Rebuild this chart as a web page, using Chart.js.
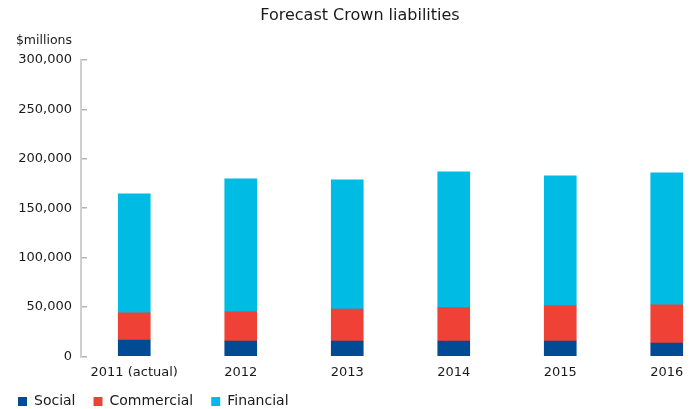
<!DOCTYPE html>
<html>
<head>
<meta charset="utf-8">
<title>Forecast Crown liabilities</title>
<script src="https://cdn.jsdelivr.net/npm/chart.js@4/dist/chart.umd.min.js"></script>
<style>
    html, body { margin: 0; padding: 0; background: #fff; overflow: hidden; }
    canvas { display: block; }
</style>
</head>
<body>
<canvas id="liabilitiesChart" width="720" height="409"></canvas>
<script>
// 年度与各类负债（百万元）
const years = ['2011 (actual)', '2012', '2013', '2014', '2015', '2016'];
const social = [16500, 15500, 15500, 15500, 15500, 13500];
const commercial = [27400, 29400, 32400, 33800, 35800, 38500];
const financial = [120600, 134800, 130800, 137500, 131400, 133800];

const yMax = 300000;
const yStep = 50000;

const FONT = 'DejaVu Sans';
const TEXT = '#1a1a1a';

// 纵轴顶部的单位文字
const unitLabel = {
    id: 'unitLabel',
    afterDraw(chart) {
        const ctx = chart.ctx;
        const y = chart.scales.y;
        ctx.save();
        ctx.font = '12.5px "' + FONT + '"';
        ctx.fillStyle = TEXT;
        ctx.textAlign = 'right';
        ctx.textBaseline = 'alphabetic';
        ctx.fillText('$millions', y.right - 9, 44);
        ctx.restore();
    }
};

function createChart() {
    const ctx = document.getElementById('liabilitiesChart');
    if (!ctx) return;

    return new Chart(ctx, {
        type: 'bar',
        data: {
            labels: years,
            datasets: [
                {
                    label: 'Social',
                    data: social,
                    backgroundColor: 'rgb(0, 75, 147)',
                    borderWidth: 0,
                    barThickness: 32
                },
                {
                    label: 'Commercial',
                    data: commercial,
                    backgroundColor: 'rgb(239, 65, 54)',
                    borderWidth: 0,
                    barThickness: 32
                },
                {
                    label: 'Financial',
                    data: financial,
                    backgroundColor: 'rgb(0, 187, 228)',
                    borderWidth: 0,
                    barThickness: 32
                }
            ]
        },
        options: {
            responsive: false,
            animation: false,
            devicePixelRatio: 1,
            layout: {
                padding: 0
            },
            plugins: {
                title: {
                    display: true,
                    text: 'Forecast Crown liabilities',
                    color: TEXT,
                    font: { family: FONT, size: 16, weight: 'normal' },
                    padding: { top: 6, bottom: 34.8 }
                },
                legend: {
                    display: true,
                    position: 'bottom',
                    align: 'start',
                    maxHeight: 32.5,
                    labels: {
                        boxWidth: 9,
                        boxHeight: 9,
                        padding: 18,
                        color: TEXT,
                        font: { family: FONT, size: 14 }
                    }
                },
                tooltip: { enabled: false }
            },
            scales: {
                x: {
                    stacked: true,
                    afterFit(scale) { scale.height = 20.2; },
                    grid: { display: false, drawTicks: false },
                    border: { display: false },
                    ticks: {
                        padding: 9,
                        color: TEXT,
                        font: { family: FONT, size: 13 },
                        maxRotation: 0
                    }
                },
                y: {
                    stacked: true,
                    min: 0,
                    max: yMax,
                    afterFit(scale) { scale.width = 81; },
                    grid: {
                        drawOnChartArea: false,
                        drawTicks: true,
                        tickLength: -6,
                        color: '#b4b4b4',
                        lineWidth: 1.5
                    },
                    border: {
                        display: true,
                        color: '#cfcfcf',
                        width: 2
                    },
                    ticks: {
                        stepSize: yStep,
                        padding: 15,
                        color: TEXT,
                        font: { family: FONT, size: 13 },
                        callback: v => v.toLocaleString('en-US')
                    }
                }
            }
        },
        plugins: [unitLabel]
    });
}

createChart();
</script>
</body>
</html>
